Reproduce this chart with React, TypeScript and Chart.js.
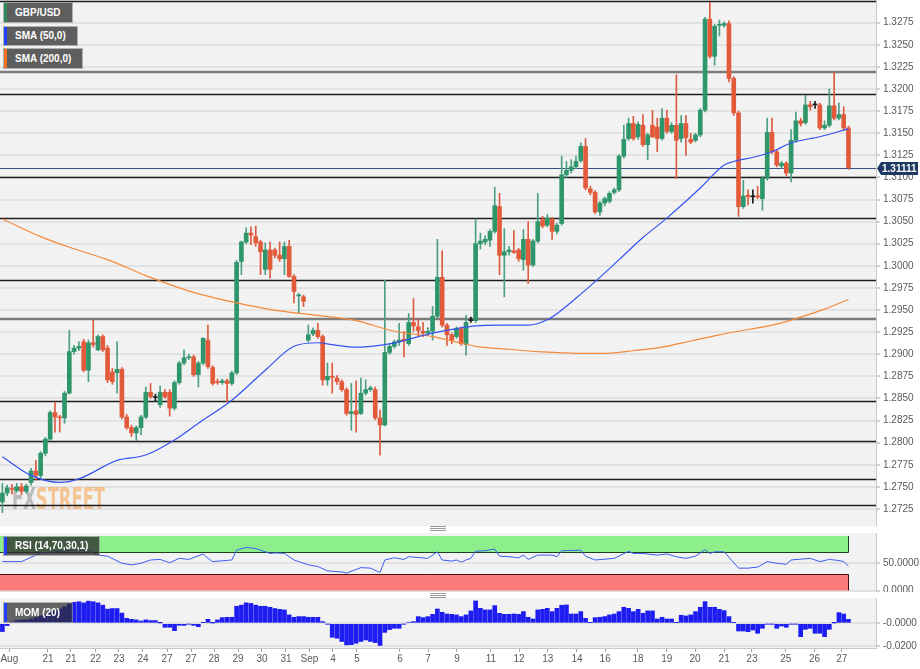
import React, { useEffect, useRef } from "react";
import { Chart, registerables } from "chart.js";
Chart.register(...registerables);

// ---------- DATA ----------
const opens = [
  1.2733, 1.2743, 1.2748, 1.2746, 1.2750, 1.2745, 1.2755, 1.2768, 1.2763, 1.2788,
  1.2804, 1.2834, 1.2829, 1.2828, 1.2856, 1.2903, 1.2907, 1.2914, 1.2882, 1.2913,
  1.2905, 1.2920, 1.2907, 1.2880, 1.2879, 1.2883, 1.2829, 1.2817, 1.2811, 1.2817,
  1.2829, 1.2857, 1.2851, 1.2843, 1.2857, 1.2857, 1.2839, 1.2868, 1.2890, 1.2896,
  1.2897, 1.2877, 1.2890, 1.2916, 1.2885, 1.2869, 1.2868, 1.2870, 1.2867, 1.2879,
  1.3005, 1.3027, 1.3037, 1.3033, 1.3027, 1.2996, 1.3018, 1.3018, 1.3012, 1.3008,
  1.3022, 1.2988, 1.2966, 1.2965, 1.2916, 1.2923, 1.2927, 1.2920, 1.2871, 1.2875,
  1.2873, 1.2869, 1.2860, 1.2833, 1.2836, 1.2833, 1.2856, 1.2860, 1.2860, 1.2828,
  1.2820, 1.2902, 1.2909, 1.2914, 1.2917, 1.2912, 1.2936, 1.2931, 1.2926, 1.2924,
  1.2926, 1.2943, 1.2987, 1.2933, 1.2922, 1.2920, 1.2929, 1.2911, 1.2938, 1.2938,
  1.3025, 1.3027, 1.3029, 1.3039, 1.3067, 1.3012, 1.3016, 1.3017, 1.3018, 1.3007,
  1.3030, 1.3001, 1.3028, 1.3052, 1.3046, 1.3053, 1.3039, 1.3048, 1.3103, 1.3108,
  1.3112, 1.3119, 1.3135, 1.3087, 1.3083, 1.3061, 1.3071, 1.3073, 1.3083, 1.3086,
  1.3124, 1.3144, 1.3161, 1.3146, 1.3159, 1.3137, 1.3159, 1.3157, 1.3144, 1.3167,
  1.3152, 1.3159, 1.3144, 1.3161, 1.3143, 1.3142, 1.3148, 1.3176, 1.3279, 1.3237,
  1.3272, 1.3272, 1.3274, 1.3212, 1.3173, 1.3067, 1.3080, 1.3078, 1.3079, 1.3076,
  1.3099, 1.3151, 1.3129, 1.3113, 1.3116, 1.3105, 1.3142, 1.3164, 1.3162, 1.3182,
  1.3182, 1.3182, 1.3156, 1.3159, 1.3181, 1.3167, 1.3171, 1.3156,
];
const highs = [
  1.2754, 1.2752, 1.2753, 1.2754, 1.2754, 1.2753, 1.2771, 1.2780, 1.2790, 1.2806,
  1.2836, 1.2846, 1.2831, 1.2858, 1.2927, 1.2910, 1.2914, 1.2917, 1.2916, 1.2939,
  1.2922, 1.2922, 1.2910, 1.2884, 1.2914, 1.2885, 1.2832, 1.2820, 1.2819, 1.2831,
  1.2863, 1.2867, 1.2855, 1.2864, 1.2860, 1.2860, 1.2870, 1.2892, 1.2905, 1.2900,
  1.2899, 1.2892, 1.2919, 1.2933, 1.2887, 1.2872, 1.2872, 1.2872, 1.2881, 1.3006,
  1.3028, 1.3043, 1.3044, 1.3045, 1.3029, 1.3026, 1.3027, 1.3020, 1.3027, 1.3027,
  1.3029, 1.2990, 1.2969, 1.2967, 1.2933, 1.2930, 1.2935, 1.2922, 1.2890, 1.2890,
  1.2876, 1.2871, 1.2862, 1.2867, 1.2870, 1.2873, 1.2871, 1.2864, 1.2863, 1.2837,
  1.2984, 1.2911, 1.2916, 1.2935, 1.2926, 1.2946, 1.2963, 1.2940, 1.2936, 1.2930,
  1.2954, 1.3030, 1.3017, 1.2935, 1.2924, 1.2931, 1.2931, 1.2944, 1.2942, 1.3053,
  1.3037, 1.3034, 1.3041, 1.3089, 1.3082, 1.3042, 1.3022, 1.3040, 1.3020, 1.3041,
  1.3050, 1.3030, 1.3082, 1.3056, 1.3058, 1.3055, 1.3048, 1.3124, 1.3118, 1.3120,
  1.3124, 1.3139, 1.3144, 1.3090, 1.3085, 1.3073, 1.3078, 1.3084, 1.3088, 1.3126,
  1.3159, 1.3167, 1.3169, 1.3163, 1.3171, 1.3150, 1.3176, 1.3167, 1.3178, 1.3176,
  1.3162, 1.3216, 1.3170, 1.3170, 1.3150, 1.3150, 1.3178, 1.3281, 1.3298, 1.3273,
  1.3278, 1.3276, 1.3277, 1.3214, 1.3175, 1.3097, 1.3086, 1.3086, 1.3090, 1.3101,
  1.3167, 1.3167, 1.3131, 1.3118, 1.3118, 1.3154, 1.3174, 1.3167, 1.3193, 1.3186,
  1.3186, 1.3184, 1.3164, 1.3200, 1.3219, 1.3184, 1.3180, 1.3158,
];
const lows = [
  1.2721, 1.2740, 1.2742, 1.2744, 1.2741, 1.2743, 1.2752, 1.2758, 1.2760, 1.2785,
  1.2802, 1.2812, 1.2812, 1.2822, 1.2855, 1.2900, 1.2904, 1.2880, 1.2869, 1.2908,
  1.2904, 1.2903, 1.2868, 1.2866, 1.2856, 1.2827, 1.2815, 1.2807, 1.2802, 1.2809,
  1.2827, 1.2850, 1.2847, 1.2840, 1.2850, 1.2830, 1.2837, 1.2866, 1.2888, 1.2894,
  1.2875, 1.2863, 1.2888, 1.2884, 1.2865, 1.2866, 1.2866, 1.2846, 1.2865, 1.2877,
  1.2990, 1.3025, 1.3024, 1.3022, 1.2990, 1.2990, 1.2986, 1.3009, 1.3005, 1.2990,
  1.2987, 1.2958, 1.2946, 1.2954, 1.2914, 1.2921, 1.2918, 1.2865, 1.2865, 1.2856,
  1.2866, 1.2858, 1.2831, 1.2814, 1.2812, 1.2832, 1.2854, 1.2858, 1.2826, 1.2786,
  1.2819, 1.2900, 1.2907, 1.2910, 1.2897, 1.2910, 1.2926, 1.2920, 1.2920, 1.2921,
  1.2916, 1.2941, 1.2931, 1.2910, 1.2912, 1.2918, 1.2910, 1.2899, 1.2936, 1.2936,
  1.3019, 1.3024, 1.3022, 1.3037, 1.2990, 1.2965, 1.3012, 1.3014, 1.3005, 1.2995,
  1.2980, 1.2999, 1.3026, 1.3043, 1.3044, 1.3030, 1.3036, 1.3046, 1.3100, 1.3105,
  1.3110, 1.3117, 1.3086, 1.3080, 1.3059, 1.3057, 1.3068, 1.3071, 1.3081, 1.3084,
  1.3122, 1.3142, 1.3142, 1.3143, 1.3135, 1.3120, 1.3145, 1.3129, 1.3142, 1.3150,
  1.3150, 1.3099, 1.3140, 1.3125, 1.3138, 1.3140, 1.3146, 1.3174, 1.3235, 1.3227,
  1.3260, 1.3270, 1.3208, 1.3170, 1.3056, 1.3065, 1.3069, 1.3071, 1.3076, 1.3063,
  1.3097, 1.3127, 1.3112, 1.3110, 1.3102, 1.3095, 1.3140, 1.3158, 1.3160, 1.3176,
  1.3178, 1.3154, 1.3154, 1.3157, 1.3165, 1.3165, 1.3153, 1.3109,
];
const closes = [
  1.2743, 1.2749, 1.2747, 1.2750, 1.2745, 1.2751, 1.2768, 1.2763, 1.2788, 1.2804,
  1.2834, 1.2829, 1.2828, 1.2856, 1.2903, 1.2907, 1.2909, 1.2882, 1.2913, 1.2911,
  1.2920, 1.2905, 1.2871, 1.2869, 1.2883, 1.2829, 1.2817, 1.2811, 1.2817, 1.2829,
  1.2857, 1.2852, 1.2851, 1.2857, 1.2852, 1.2839, 1.2868, 1.2890, 1.2896, 1.2897,
  1.2877, 1.2890, 1.2918, 1.2886, 1.2867, 1.2868, 1.2870, 1.2867, 1.2879, 1.3004,
  1.3027, 1.3037, 1.3035, 1.3026, 1.3016, 1.3018, 1.2996, 1.3012, 1.3008, 1.3022,
  1.2988, 1.2971, 1.2967, 1.2960, 1.2922, 1.2927, 1.2920, 1.2871, 1.2875, 1.2874,
  1.2869, 1.2860, 1.2833, 1.2835, 1.2832, 1.2856, 1.2860, 1.2862, 1.2828, 1.2820,
  1.2902, 1.2909, 1.2914, 1.2916, 1.2915, 1.2936, 1.2932, 1.2927, 1.2924, 1.2926,
  1.2943, 1.2987, 1.2933, 1.2922, 1.2916, 1.2929, 1.2912, 1.2936, 1.2938, 1.3025,
  1.3028, 1.3030, 1.3039, 1.3068, 1.3012, 1.3016, 1.3018, 1.3015, 1.3008, 1.3030,
  1.3001, 1.3028, 1.3050, 1.3045, 1.3054, 1.3039, 1.3046, 1.3103, 1.3108, 1.3112,
  1.3118, 1.3135, 1.3088, 1.3083, 1.3061, 1.3071, 1.3076, 1.3082, 1.3086, 1.3124,
  1.3143, 1.3161, 1.3144, 1.3160, 1.3137, 1.3148, 1.3146, 1.3144, 1.3167, 1.3152,
  1.3159, 1.3142, 1.3161, 1.3145, 1.3140, 1.3148, 1.3176, 1.3279, 1.3237, 1.3271,
  1.3273, 1.3274, 1.3212, 1.3173, 1.3067, 1.3079, 1.3078, 1.3078, 1.3078, 1.3099,
  1.3151, 1.3129, 1.3114, 1.3116, 1.3105, 1.3142, 1.3164, 1.3161, 1.3182, 1.3180,
  1.3182, 1.3156, 1.3159, 1.3181, 1.3167, 1.3171, 1.3156, 1.3111,
];

const sma50Idx = [0, 6, 12, 16, 24, 30, 36, 41, 48, 55, 61, 66, 69, 74, 80, 83, 87, 90, 95, 99, 104, 110, 114, 117, 121, 125, 129, 134, 139, 146, 151, 153, 158, 161, 165, 171, 177];
const sma50Val = [1.2784, 1.2763, 1.2755, 1.2759, 1.2780, 1.2786, 1.2803, 1.2822, 1.2848, 1.2882, 1.2909, 1.2913, 1.2911, 1.2908, 1.2911, 1.2914, 1.2920, 1.2924, 1.2929, 1.2932, 1.2933, 1.2933, 1.2939, 1.2950, 1.2968, 1.2987, 1.3007, 1.3032, 1.3054, 1.3088, 1.3114, 1.3118, 1.3124, 1.3129, 1.3139, 1.3146, 1.3155];

const sma200Idx = [0, 8, 14, 22, 30, 40, 50, 58, 66, 74, 82, 90, 95, 99, 105, 112, 120, 126, 132, 138, 144, 150, 156, 162, 167, 172, 177];
const sma200Val = [1.3053, 1.3033, 1.3021, 1.3007, 1.2989, 1.2970, 1.2957, 1.2949, 1.2944, 1.2938, 1.2926, 1.2920, 1.2914, 1.2909, 1.2906, 1.2903, 1.2901, 1.2901, 1.2904, 1.2908, 1.2915, 1.2922, 1.2928, 1.2934, 1.2942, 1.2951, 1.2962];

const rsiIdx = [0, 4, 6, 8, 11, 13, 18, 20, 22, 25, 27, 29, 31, 33, 35, 37, 39, 42, 43, 44, 48, 49, 51, 53, 55, 56, 57, 59, 61, 62, 64, 66, 68, 71, 72, 75, 77, 79, 80, 82, 84, 85, 89, 91, 92, 94, 95, 96, 97, 98, 99, 101, 103, 104, 106, 108, 109, 110, 112, 115, 116, 117, 121, 122, 124, 128, 131, 132, 134, 137, 139, 141, 143, 145, 147, 148, 149, 151, 154, 156, 158, 160, 162, 164, 165, 169, 171, 173, 175, 176, 177];
const rsiVal = [53, 53, 61, 69, 71, 73, 74, 65, 63, 50, 47, 50, 56, 57, 51, 59, 57, 67, 59, 53, 56, 74, 79, 77, 71, 68, 69, 68, 56, 53, 47, 44, 36, 34, 32, 42, 41, 33, 56, 60, 57, 62, 59, 71, 56, 54, 56, 52, 56, 59, 72, 73, 76, 63, 62, 60, 65, 57, 65, 65, 62, 73, 74, 63, 56, 59, 72, 68, 68, 65, 67, 62, 59, 63, 75, 68, 71, 71, 41, 41, 43, 53, 50, 48, 56, 59, 53, 57, 55, 53, 45];

const momVal = [
  -0.0073, -0.0020, 0.0012, 0.0025, 0.0030, 0.0030, 0.0040, 0.0050, 0.0065, 0.0080,
  0.0095, 0.0110, 0.0125, 0.0145, 0.0170, 0.0185, 0.0190, 0.0180, 0.0195, 0.0190,
  0.0180, 0.0160, 0.0125, 0.0130, 0.0130, 0.0090, 0.0044, 0.0035, 0.0030, 0.0020,
  0.0030, 0.0024, 0.0024, 0.0003, -0.0035, -0.0035, -0.0065, -0.0018, -0.0018, -0.0006,
  -0.0018, -0.0030, 0.0006, 0.0035, 0.0003, 0.0030, 0.0050, 0.0053, 0.0053, 0.0150,
  0.0160, 0.0180, 0.0175, 0.0160, 0.0150, 0.0150, 0.0141, 0.0130, 0.0123, 0.0118,
  0.0074, 0.0053, 0.0059, 0.0059, 0.0053, 0.0053, 0.0053, 0.0015, -0.0006, -0.0123,
  -0.0132, -0.0160, -0.0190, -0.0188, -0.0176, -0.0160, -0.0147, -0.0160, -0.0170, -0.0195,
  -0.0080, -0.0055, -0.0044, -0.0044, -0.0006, 0.0009, 0.0015, 0.0059, 0.0050, 0.0059,
  0.0079, 0.0126, 0.0097, 0.0082, 0.0079, 0.0074, 0.0059, 0.0074, 0.0109, 0.0197,
  0.0132, 0.0118, 0.0118, 0.0156, 0.0088, 0.0079, 0.0079, 0.0082, 0.0079, 0.0103,
  0.0053, 0.0038, 0.0118, 0.0123, 0.0132, 0.0103, 0.0132, 0.0159, 0.0162, 0.0082,
  0.0082, 0.0103, 0.0044, 0.0006, 0.0050, 0.0053, 0.0059, 0.0074, 0.0082, 0.0103,
  0.0141, 0.0132, 0.0103, 0.0123, 0.0088, 0.0109, 0.0109, 0.0038, 0.0053, 0.0038,
  0.0038, 0.0006, 0.0071, 0.0065, 0.0074, 0.0103, 0.0141, 0.0191, 0.0141, 0.0141,
  0.0123, 0.0112, 0.0059, 0.0006, -0.0068, -0.0068, -0.0074, -0.0059, -0.0088, -0.0044,
  -0.0006, -0.0006, -0.0044, -0.0024, -0.0035, -0.0006, -0.0006, -0.0118, -0.0053, -0.0044,
  -0.0088, -0.0088, -0.0118, -0.0053, 0.0003, 0.0094, 0.0082, 0.0035,
];

const xTickPos = [1.45, 9.54, 14.35, 19.48, 24.39, 29.41, 34.44, 39.46, 44.27, 49.29, 54.31, 59.33, 64.25, 69.16, 74.18, 83.18, 89.04, 95.1, 102.2, 108.1, 114.1, 120.2, 126.1, 132.97, 139.0, 144.9, 151.0, 156.8, 163.9, 169.9, 175.6];
const xTickLabels = ["Aug", "21", "21", "22", "23", "24", "27", "27", "28", "29", "30", "31", "Sep", "4", "5", "6", "7", "9", "11", "12", "13", "14", "16", "18", "19", "20", "21", "23", "25", "26", "27"];

const priceTicks = [1.2725, 1.275, 1.2775, 1.28, 1.2825, 1.285, 1.2875, 1.29, 1.2925, 1.295, 1.2975, 1.3, 1.3025, 1.305, 1.3075, 1.31, 1.3125, 1.315, 1.3175, 1.32, 1.3225, 1.325, 1.3275];
const levelLines = [1.3299, 1.3219, 1.3194, 1.3100, 1.30545, 1.29837, 1.29396, 1.28475, 1.28016, 1.27586, 1.27299];
const grayLevels = [1.3219, 1.29396];
const lastPrice = 1.31111;

const rsiTicks = [0, 50];
const rsiTickLabels = ["0.0000", "50.0000"];
const rsiUpper = 70;
const rsiLower = 30;
const momTicks = [-0.02, 0];
const momTickLabels = ["-0.0200", "-0.0000"];

// ---------- LAYOUT / STYLE ----------
const X_MIN = -0.5;
const X_MAX = 182.76;
const FONT = '"Liberation Sans", Arial, Helvetica, sans-serif';
const PLOT_BG = "#f2f2f2";
const GRID = "#e2e2e2";
const AXIS_W = 44;

const idx = opens.map((_, i) => i);

function fixY(s: any) {
  s.width = AXIS_W;
  s.paddingTop = 0;
  s.paddingBottom = 0;
}

function bgPlugin(id: string) {
  return {
    id,
    beforeDraw(chart: any) {
      const { ctx, chartArea: a, width, height } = chart;
      ctx.save();
      ctx.fillStyle = "#ffffff";
      ctx.fillRect(0, 0, width, height);
      ctx.fillStyle = PLOT_BG;
      ctx.fillRect(a.left, a.top, a.right - a.left, a.bottom - a.top);
      ctx.restore();
    },
  };
}

const mainDecor = {
  id: "mainDecor",
  beforeDatasetsDraw(chart: any) {
    const { ctx, chartArea: a, scales } = chart;
    const y = scales.y;
    ctx.save();
    ctx.beginPath();
    ctx.rect(a.left, a.top, a.right - a.left, a.bottom - a.top);
    ctx.clip();
    // watermark
    ctx.font = 'bold 30px "Liberation Sans Narrow", "DejaVu Sans Condensed", sans-serif';
    const wFX = ctx.measureText("FX").width;
    const wAll = ctx.measureText("FXSTREET").width;
    const sx = 93 / wAll;
    ctx.translate(12, 509);
    ctx.scale(sx, 1);
    ctx.textBaseline = "alphabetic";
    ctx.fillStyle = "rgba(140,140,140,0.55)";
    ctx.fillText("FX", 0, 0);
    ctx.fillStyle = "rgba(245,160,70,0.55)";
    ctx.fillText("STREET", wFX, 0);
    ctx.setTransform(1, 0, 0, 1, 0, 0);
    // level lines
    levelLines.forEach((v) => {
      const gray = grayLevels.indexOf(v) >= 0;
      const py = Math.round(y.getPixelForValue(v)) + (gray ? 0 : 0.5);
      ctx.strokeStyle = gray ? "#7c7c7c" : "#1e1e1e";
      ctx.lineWidth = gray ? 2.5 : 1.4;
      ctx.beginPath();
      ctx.moveTo(a.left, py);
      ctx.lineTo(a.right, py);
      ctx.stroke();
    });
    // last price line
    const lp = Math.round(y.getPixelForValue(lastPrice)) + 0.5;
    ctx.strokeStyle = "#3a4f86";
    ctx.lineWidth = 1;
    ctx.beginPath();
    ctx.moveTo(a.left, lp);
    ctx.lineTo(a.right, lp);
    ctx.stroke();
    ctx.restore();
  },
  afterDraw(chart: any) {
    const { ctx, chartArea: a, scales } = chart;
    const yy = Math.round(scales.y.getPixelForValue(lastPrice)) + 0.5;
    ctx.save();
    ctx.fillStyle = "#1f3a62";
    ctx.beginPath();
    ctx.moveTo(a.right + 1, yy);
    ctx.lineTo(a.right + 5, yy - 6.5);
    ctx.lineTo(918, yy - 6.5);
    ctx.lineTo(918, yy + 6.5);
    ctx.lineTo(a.right + 5, yy + 6.5);
    ctx.closePath();
    ctx.fill();
    ctx.fillStyle = "#ffffff";
    ctx.font = "bold 10px " + FONT;
    ctx.textBaseline = "middle";
    ctx.textAlign = "left";
    ctx.fillText(lastPrice.toFixed(5), a.right + 6, yy + 0.5);
    ctx.restore();
  },
};

const rsiDecor = {
  id: "rsiDecor",
  beforeDatasetsDraw(chart: any) {
    const { ctx, scales } = chart;
    const x = scales.x;
    const y = scales.y;
    const x0 = x.getPixelForValue(X_MIN);
    const x1 = Math.round(x.getPixelForValue(idx.length - 1)) + 0.5;
    const gTop = y.getPixelForValue(100);
    const gBot = Math.round(y.getPixelForValue(rsiUpper)) + 0.5;
    const rTop = Math.round(y.getPixelForValue(rsiLower)) + 0.5;
    const rBot = y.getPixelForValue(0);
    ctx.save();
    ctx.fillStyle = "#8cef8c";
    ctx.fillRect(x0, gTop, x1 - x0, gBot - gTop);
    ctx.fillStyle = "#fb7c7c";
    ctx.fillRect(x0, rTop, x1 - x0, rBot - rTop);
    ctx.strokeStyle = "#1f3d1f";
    ctx.lineWidth = 1;
    ctx.beginPath();
    ctx.moveTo(x0, gBot);
    ctx.lineTo(x1, gBot);
    ctx.lineTo(x1, gTop);
    ctx.stroke();
    ctx.strokeStyle = "#4a1010";
    ctx.beginPath();
    ctx.moveTo(x0, rTop);
    ctx.lineTo(x1, rTop);
    ctx.lineTo(x1, rBot);
    ctx.stroke();
    ctx.restore();
  },
};

function yAxisCommon() {
  return {
    type: "linear",
    position: "right",
    afterFit: fixY,
    grid: { color: GRID, lineWidth: 2, tickLength: 4, tickColor: "#a0a0a0", tickWidth: 1 },
    border: { display: true, color: "#c8c8c8" },
    ticks: { color: "#5a5a5a", font: { size: 10, family: FONT }, padding: 3, autoSkip: false },
  };
}

const Tag = (p: any) => (
  <div
    style={{
      position: "absolute",
      left: p.x,
      top: p.y,
      width: p.w,
      height: p.h,
      background: p.bg,
      borderLeft: "3px solid " + p.edge,
      outline: "1px solid rgba(150,150,150,0.7)",
      color: "#fff",
      font: "bold 10px " + FONT,
      lineHeight: p.h + "px",
      paddingLeft: 8,
      boxSizing: "border-box",
      whiteSpace: "nowrap",
    }}
  >
    {p.text}
  </div>
);

const Handle = (p: any) => (
  <div style={{ position: "absolute", left: 430, top: p.y, width: 16 }}>
    {[0, 2, 4].map((k) => (
      <div key={k} style={{ position: "absolute", left: 0, top: k, width: 16, height: 1, background: "#9a9a9a" }} />
    ))}
  </div>
);

export default function App() {
  const mainRef = useRef<HTMLCanvasElement>(null);
  const rsiRef = useRef<HTMLCanvasElement>(null);
  const momRef = useRef<HTMLCanvasElement>(null);

  useEffect(() => {
    const bodyColors = idx.map((i) => (closes[i] === opens[i] ? "#1a1a1a" : closes[i] > opens[i] ? "#2e966a" : "#e35a3a"));
    const wickColors = idx.map((i) => (closes[i] === opens[i] ? "#1a1a1a" : closes[i] > opens[i] ? "#4b9f82" : "#dd5b40"));

    const main = new Chart(mainRef.current as any, {
      type: "bar",
      data: {
        datasets: [
          {
            type: "line",
            data: sma50Idx.map((x, k) => ({ x, y: sma50Val[k] })),
            borderColor: "#3552f2",
            borderWidth: 1.2,
            pointRadius: 0,
            cubicInterpolationMode: "monotone",
            order: 0,
          },
          {
            type: "line",
            data: sma200Idx.map((x, k) => ({ x, y: sma200Val[k] })),
            borderColor: "#f5893a",
            borderWidth: 1.2,
            pointRadius: 0,
            cubicInterpolationMode: "monotone",
            order: 0,
          },
          {
            type: "bar",
            data: idx.map((i) => ({ x: i, y: [opens[i], closes[i]] })),
            backgroundColor: bodyColors,
            barThickness: 4,
            minBarLength: 1,
            grouped: false,
            order: 1,
          },
          {
            type: "bar",
            data: idx.map((i) => ({ x: i, y: [lows[i], highs[i]] })),
            backgroundColor: wickColors,
            barThickness: 1,
            grouped: false,
            order: 2,
          },
        ],
      } as any,
      options: {
        responsive: false,
        animation: false,
        devicePixelRatio: 1,
        layout: { padding: 0 },
        plugins: { legend: { display: false }, tooltip: { enabled: false } },
        scales: {
          x: { type: "linear", min: X_MIN, max: X_MAX, display: false, offset: false },
          y: {
            ...yAxisCommon(),
            min: 1.330067 - 526 * 0.0001131,
            max: 1.330067,
            afterBuildTicks: (s: any) => {
              s.ticks = priceTicks.map((v) => ({ value: v }));
            },
            ticks: { ...yAxisCommon().ticks, callback: (v: any) => Number(v).toFixed(4) },
          },
        },
      } as any,
      plugins: [bgPlugin("bgMain"), mainDecor],
    });

    const rsi = new Chart(rsiRef.current as any, {
      type: "line",
      data: {
        datasets: [
          {
            data: rsiIdx.map((x, k) => ({ x, y: rsiVal[k] })),
            borderColor: "#3c5ef2",
            borderWidth: 1,
            pointRadius: 0,
          },
        ],
      } as any,
      options: {
        responsive: false,
        animation: false,
        devicePixelRatio: 1,
        layout: { padding: 0 },
        plugins: { legend: { display: false }, tooltip: { enabled: false } },
        scales: {
          x: { type: "linear", min: X_MIN, max: X_MAX, display: false, offset: false },
          y: {
            ...yAxisCommon(),
            min: -2.75,
            max: 105.5,
            afterBuildTicks: (s: any) => {
              s.ticks = rsiTicks.map((v) => ({ value: v }));
            },
            ticks: { ...yAxisCommon().ticks, callback: (_v: any, i: number) => rsiTickLabels[i] },
          },
        },
      } as any,
      plugins: [bgPlugin("bgRsi"), rsiDecor],
    });

    const mom = new Chart(momRef.current as any, {
      type: "bar",
      data: {
        datasets: [
          {
            data: idx.map((i) => ({ x: i, y: momVal[i] })),
            backgroundColor: "#1d1df2",
            barThickness: 4,
            grouped: false,
          },
        ],
      } as any,
      options: {
        responsive: false,
        animation: false,
        devicePixelRatio: 1,
        layout: { padding: 0 },
        plugins: { legend: { display: false }, tooltip: { enabled: false } },
        scales: {
          x: {
            type: "linear",
            min: X_MIN,
            max: X_MAX,
            offset: false,
            afterBuildTicks: (s: any) => {
              s.ticks = xTickPos.map((v) => ({ value: v }));
            },
            afterFit: (s: any) => {
              s.height = 21;
              s.paddingLeft = 0;
              s.paddingRight = 0;
            },
            grid: { drawOnChartArea: false, tickLength: 4, tickColor: "#a0a0a0", offset: false },
            border: { display: true, color: "#c8c8c8" },
            ticks: {
              autoSkip: false,
              maxRotation: 0,
              padding: 1,
              color: "#5a5a5a",
              font: { size: 10, family: FONT },
              callback: (_v: any, i: number) => xTickLabels[i],
            },
          },
          y: {
            ...yAxisCommon(),
            min: -0.02176,
            max: 0.02229,
            afterBuildTicks: (s: any) => {
              s.ticks = momTicks.map((v) => ({ value: v }));
            },
            ticks: { ...yAxisCommon().ticks, callback: (_v: any, i: number) => momTickLabels[i] },
          },
        },
      } as any,
      plugins: [bgPlugin("bgMom")],
    });

    return () => {
      main.destroy();
      rsi.destroy();
      mom.destroy();
    };
  }, []);

  return (
    <div style={{ position: "absolute", left: 0, top: 0, width: 920, height: 669, background: "#fff", overflow: "hidden" }}>
      <canvas ref={mainRef} width={920} height={526} style={{ position: "absolute", left: 0, top: 0 }} />
      <canvas ref={rsiRef} width={920} height={59} style={{ position: "absolute", left: 0, top: 533 }} />
      <canvas ref={momRef} width={920} height={71} style={{ position: "absolute", left: 0, top: 598 }} />
      <Handle y={526} />
      <Handle y={593} />
      <Tag x={4} y={3} w={68} h={19} text="GBP/USD" edge="#2e8b57" bg="#5e5e5e" />
      <Tag x={4} y={27} w={73} h={18} text="SMA (50,0)" edge="#2040ff" bg="#5e5e5e" />
      <Tag x={4} y={49} w={78} h={19} text="SMA (200,0)" edge="#f07020" bg="#5e5e5e" />
      <Tag x={4} y={537} w={95} h={18} text="RSI (14,70,30,1)" edge="#2040ff" bg="rgba(45,45,45,0.78)" />
      <Tag x={4} y={603} w={68} h={19} text="MOM (20)" edge="#2040ff" bg="rgba(45,45,45,0.72)" />
    </div>
  );
}
